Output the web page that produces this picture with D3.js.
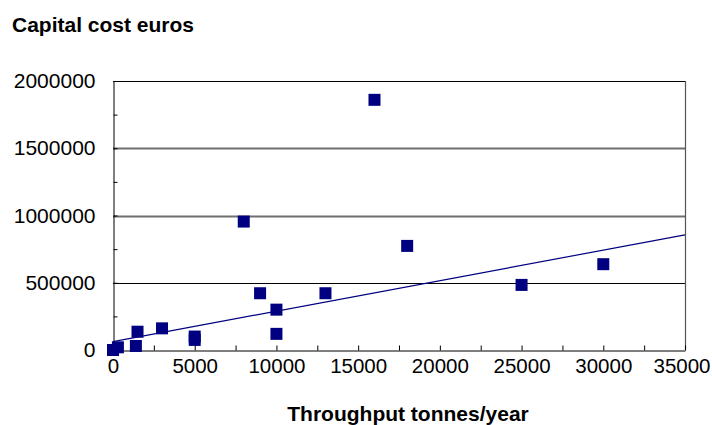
<!DOCTYPE html>
<html>
<head>
<meta charset="utf-8">
<script src="https://cdn.jsdelivr.net/npm/d3@7"></script>
<style>
  html, body { margin: 0; padding: 0; background: #fff; }
  svg { display: block; font-family: "Liberation Sans", Arial, sans-serif; }
</style>
</head>
<body>
<svg id="chart" width="712" height="425"></svg>
<script>
// ---- data ----
const throughput = [0, 300, 1400, 1500, 3000, 5000, 5000, 8000, 9000, 10000, 10000, 13000, 16000, 18000, 25000, 30000];
const capitalCost = [0, 20000, 30000, 136000, 161000, 100000, 75000, 955000, 422000, 300000, 120000, 422000, 1860000, 774000, 484000, 638000];
const trendX = [0, 35000];
const trendY = [62000, 856000];
const xTicks = [0, 5000, 10000, 15000, 20000, 25000, 30000, 35000];
const yTicks = [0, 500000, 1000000, 1500000, 2000000];
const yTitle = "Capital cost euros";
const xTitle = "Throughput tonnes/year";

// ---- layout ----
const svg = d3.select("#chart");
const x = d3.scaleLinear().domain([0, 35000]).range([113, 685]);
const y = d3.scaleLinear().domain([0, 2000000]).range([350, 81]);
const navy = "#000080";

// gridlines
const grid = svg.append("g");
grid.selectAll("line").data(yTicks.filter(v => v > 0)).join("line")
  .attr("x1", x(0)).attr("x2", x(35000))
  .attr("y1", d => Math.round(y(d)) + 0.5).attr("y2", d => Math.round(y(d)) + 0.5)
  .attr("stroke", d => (d === 1000000 || d === 1500000) ? "#6f6f6f" : "#000")
  .attr("stroke-width", d => (d === 1000000 || d === 1500000) ? 2 : 1);

// right frame
svg.append("line")
  .attr("x1", x(35000) + 0.5).attr("x2", x(35000) + 0.5)
  .attr("y1", y(2000000)).attr("y2", y(0))
  .attr("stroke", "#555").attr("stroke-width", 1.2);

// x axis
const xMinor = d3.range(0, 35001, 2500);
const xAxis = d3.axisBottom(x)
  .tickValues(xMinor)
  .tickFormat(d => xTicks.includes(d) ? String(d) : "")
  .tickSizeInner(-5).tickSizeOuter(0).tickPadding(8);
const gx = svg.append("g").attr("transform", `translate(0,${Math.round(y(0)) + 0.5})`).call(xAxis);
gx.select(".domain").attr("stroke", "#000");
gx.selectAll(".tick line").attr("stroke", "#000");
gx.selectAll("text").attr("font-size", 20.5).attr("fill", "#000")
  .attr("font-family", "Liberation Sans, Arial, sans-serif")
  .attr("dx", d => d === 35000 ? -3.5 : 0);

// y axis
const yMinor = d3.range(0, 2000001, 250000);
const yAxis = d3.axisLeft(y)
  .tickValues(yMinor)
  .tickFormat(d => yTicks.includes(d) ? String(d) : "")
  .tickSizeInner(-4).tickSizeOuter(0).tickPadding(18);
const gy = svg.append("g").attr("transform", `translate(${Math.round(x(0)) + 0.5},0)`).call(yAxis);
gy.select(".domain").attr("stroke", "#000");
gy.selectAll(".tick line").attr("stroke", "#000");
gy.selectAll("text").attr("font-size", 21).attr("fill", "#000")
  .attr("font-family", "Liberation Sans, Arial, sans-serif");

// trend line
const trend = trendX.map((v, i) => [v, trendY[i]]);
svg.append("path")
  .datum(trend)
  .attr("d", d3.line().x(d => x(d[0])).y(d => y(d[1])))
  .attr("fill", "none").attr("stroke", navy).attr("stroke-width", 1.2);

// points
const pts = throughput.map((v, i) => ({ x: v, y: capitalCost[i] }));
svg.append("g").selectAll("rect").data(pts).join("rect")
  .attr("x", d => x(d.x) - 6).attr("y", d => y(d.y) - 6)
  .attr("width", 12).attr("height", 12)
  .attr("fill", navy);

// titles
svg.append("text").attr("x", 12).attr("y", 32)
  .attr("font-size", 21).attr("font-weight", "bold").attr("fill", "#000")
  .text(yTitle);
svg.append("text").attr("x", 408).attr("y", 421)
  .attr("text-anchor", "middle")
  .attr("font-size", 21).attr("font-weight", "bold").attr("fill", "#000")
  .text(xTitle);
</script>
</body>
</html>
